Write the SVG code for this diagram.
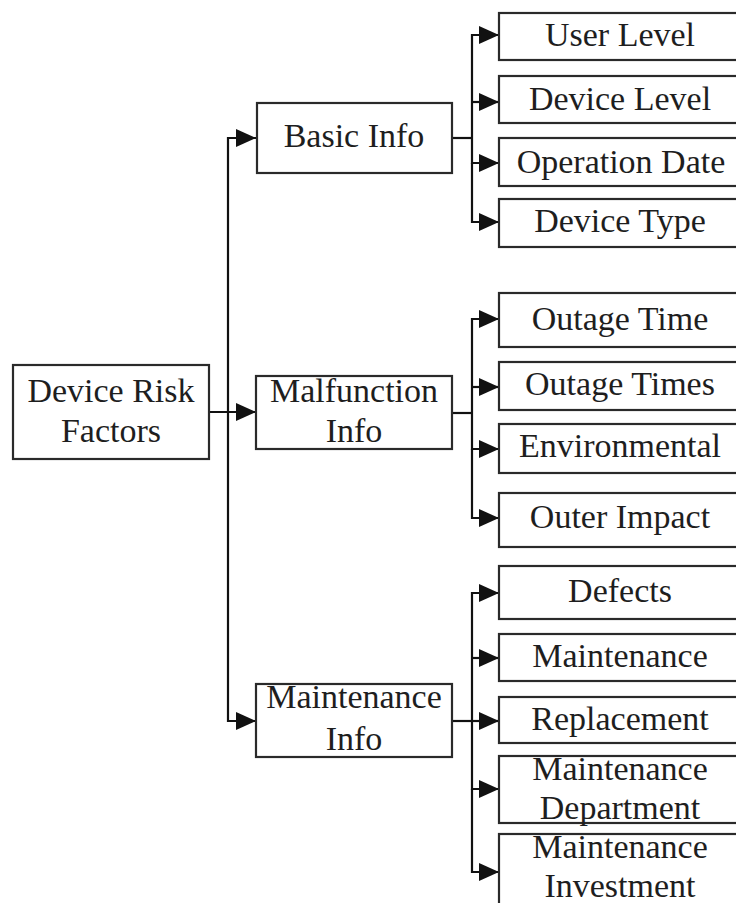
<svg xmlns="http://www.w3.org/2000/svg" width="736" height="903" viewBox="0 0 736 903">
<style>
.box{fill:#fff;stroke:#2a2a2a;stroke-width:2.2}
.t{font-family:"Liberation Serif","Times New Roman",serif;font-size:34px;fill:#1e1e1e;text-anchor:middle}
.c{fill:none;stroke:#111;stroke-width:2.2}
</style>
<defs>
<marker id="ah" markerUnits="userSpaceOnUse" markerWidth="20" markerHeight="20" viewBox="0 0 18 18" refX="18" refY="9" orient="auto">
<path d="M0,1 L18,9 L0,17 Z" fill="#111"/>
</marker>
</defs>
<rect width="736" height="903" fill="#fff"/>
<g id="connectors">
<path class="c" d="M209,412 H256" marker-end="url(#ah)"/>
<path class="c" d="M228,412 V138 H256" marker-end="url(#ah)"/>
<path class="c" d="M228,412 V721 H256" marker-end="url(#ah)"/>
<path class="c" d="M452,138 H472"/>
<path class="c" d="M472,138 V35 H499" marker-end="url(#ah)"/>
<path class="c" d="M472,102 H499" marker-end="url(#ah)"/>
<path class="c" d="M472,138 V163 H499" marker-end="url(#ah)"/>
<path class="c" d="M472,163 V222 H499" marker-end="url(#ah)"/>
<path class="c" d="M452,413 H472"/>
<path class="c" d="M472,413 V319 H499" marker-end="url(#ah)"/>
<path class="c" d="M472,387 H499" marker-end="url(#ah)"/>
<path class="c" d="M472,413 V449 H499" marker-end="url(#ah)"/>
<path class="c" d="M472,449 V518 H499" marker-end="url(#ah)"/>
<path class="c" d="M452,721 H472"/>
<path class="c" d="M472,721 V593 H499" marker-end="url(#ah)"/>
<path class="c" d="M472,658 H499" marker-end="url(#ah)"/>
<path class="c" d="M472,721 H499" marker-end="url(#ah)"/>
<path class="c" d="M472,721 V789 H499" marker-end="url(#ah)"/>
<path class="c" d="M472,789 V872 H499" marker-end="url(#ah)"/>
</g>
<g id="root"><rect class="box" x="13" y="365" width="196" height="94"/><text class="t" x="111" y="402">Device Risk</text><text class="t" x="111" y="442">Factors</text></g>
<g id="basic"><rect class="box" x="257" y="103" width="195" height="70"/><text class="t" x="354" y="147">Basic Info</text></g>
<g id="malfunction"><rect class="box" x="256" y="376" width="196" height="73"/><text class="t" x="354" y="402">Malfunction</text><text class="t" x="354" y="442">Info</text></g>
<g id="maintenance"><rect class="box" x="256" y="684" width="196" height="73"/><text class="t" x="354" y="708">Maintenance</text><text class="t" x="354" y="750">Info</text></g>
<g id="user-level"><rect class="box" x="499" y="13" width="250" height="47"/><text class="t" x="620" y="46">User Level</text></g>
<g id="device-level"><rect class="box" x="499" y="76" width="250" height="47"/><text class="t" x="620" y="110">Device Level</text></g>
<g id="operation-date"><rect class="box" x="499" y="138" width="250" height="48"/><text class="t" x="621" y="173">Operation Date</text></g>
<g id="device-type"><rect class="box" x="499" y="199" width="250" height="48"/><text class="t" x="620" y="232">Device Type</text></g>
<g id="outage-time"><rect class="box" x="499" y="293" width="250" height="54"/><text class="t" x="620" y="330">Outage Time</text></g>
<g id="outage-times"><rect class="box" x="499" y="362" width="250" height="48"/><text class="t" x="620" y="395">Outage Times</text></g>
<g id="environmental"><rect class="box" x="499" y="424" width="250" height="49"/><text class="t" x="620" y="457">Environmental</text></g>
<g id="outer-impact"><rect class="box" x="499" y="493" width="250" height="54"/><text class="t" x="620" y="528">Outer Impact</text></g>
<g id="defects"><rect class="box" x="499" y="566" width="250" height="53"/><text class="t" x="620" y="602">Defects</text></g>
<g id="maintenance-leaf"><rect class="box" x="499" y="634" width="250" height="47"/><text class="t" x="620" y="667">Maintenance</text></g>
<g id="replacement"><rect class="box" x="499" y="697" width="250" height="46"/><text class="t" x="620" y="730">Replacement</text></g>
<g id="maintenance-department"><rect class="box" x="499" y="756" width="250" height="67"/><text class="t" x="620" y="780">Maintenance</text><text class="t" x="620" y="819">Department</text></g>
<g id="maintenance-investment"><rect class="box" x="499" y="834" width="250" height="90"/><text class="t" x="620" y="858">Maintenance</text><text class="t" x="620" y="897">Investment</text></g>
</svg>
